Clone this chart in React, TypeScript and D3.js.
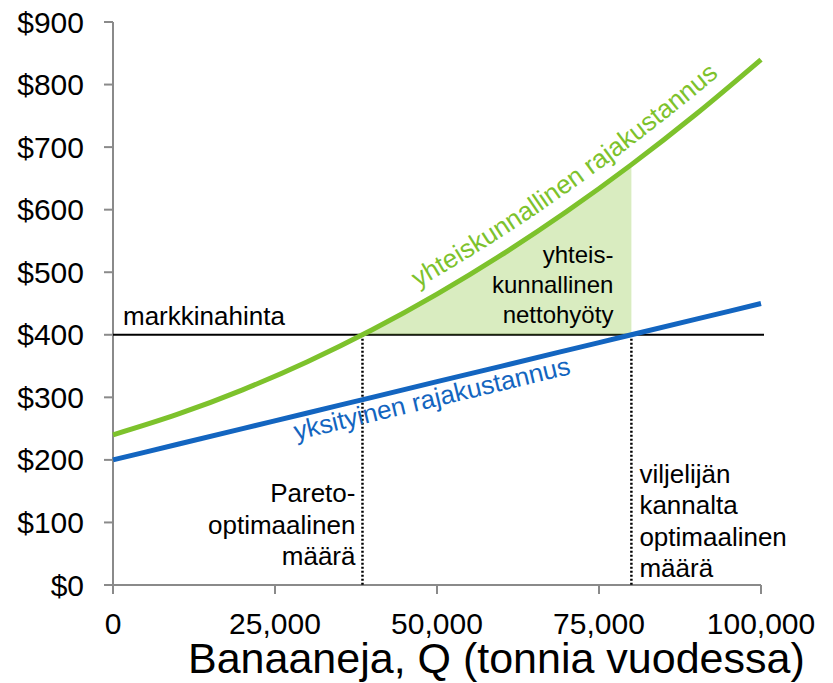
import React from "react";
import * as d3 from "d3";

// values
const quantity = [0, 10000, 20000, 30000, 40000, 50000, 60000, 70000, 80000, 90000, 100000];
const socialCost = [240, 273, 312, 357, 408, 465, 528, 597, 672, 753, 840];
const privateCost = [200, 225, 250, 275, 300, 325, 350, 375, 400, 425, 450];
const marketPrice = 400;
const paretoQ = 38500;
const farmerQ = 80000;

const yTicks = [0, 100, 200, 300, 400, 500, 600, 700, 800, 900];
const xTicks = [0, 25000, 50000, 75000, 100000];

const paretoLabel = ["Pareto-", "optimaalinen", "määrä"];
const farmerLabel = ["viljelijän", "kannalta", "optimaalinen", "määrä"];
const benefitLabel = ["yhteis-", "kunnallinen", "nettohyöty"];

const W = 833;
const H = 683;
const FONT = "'Liberation Sans', Arial, Helvetica, sans-serif";
const GREEN = "#7dc22c";
const BLUE = "#1365c0";
const AXIS = "#8a8a8a";

const App: React.FC = () => {
  const x = d3.scaleLinear().domain([0, 100000]).range([113, 761]);
  const y = d3.scaleLinear().domain([0, 900]).range([585, 22]);

  const social = quantity.map((q, i) => ({ q, v: socialCost[i] }));
  const priv = quantity.map((q, i) => ({ q, v: privateCost[i] }));

  const line = d3
    .line<{ q: number; v: number }>()
    .x((d) => x(d.q))
    .y((d) => y(d.v))
    .curve(d3.curveMonotoneX);

  const area = d3
    .area<{ q: number; v: number }>()
    .x((d) => x(d.q))
    .y0(y(marketPrice))
    .y1((d) => y(d.v))
    .curve(d3.curveMonotoneX);

  // offset path above the green curve for its label
  const pts = social.map((d) => [x(d.q), y(d.v)]);
  const off = 15;
  const offPts = pts.map((p, i) => {
    const a = pts[Math.max(0, i - 1)];
    const b = pts[Math.min(pts.length - 1, i + 1)];
    const dx = b[0] - a[0];
    const dy = b[1] - a[1];
    const len = Math.hypot(dx, dy);
    return [p[0] + (dy / len) * off, p[1] - (dx / len) * off] as [number, number];
  });
  const labelPath = d3.line().curve(d3.curveCatmullRom)(offPts) || "";
  const targetX = 418;
  let startLen = 0;
  for (let i = 0; i < offPts.length - 1; i++) {
    const [x0, y0] = offPts[i];
    const [x1, y1] = offPts[i + 1];
    const seg = Math.hypot(x1 - x0, y1 - y0);
    if (x1 >= targetX) {
      startLen += (seg * (targetX - x0)) / (x1 - x0);
      break;
    }
    startLen += seg;
  }

  // blue label angle
  const blueAngle =
    (Math.atan2(y(privateCost[10]) - y(privateCost[0]), x(quantity[10]) - x(quantity[0])) * 180) / Math.PI;
  const blueQ = 27400;
  const blueVal = privateCost[0] + ((privateCost[10] - privateCost[0]) * blueQ) / quantity[10];

  const fmt = d3.format(",");

  return (
    <svg
      width={W}
      height={H}
      style={{ position: "absolute", left: 0, top: 0, display: "block", background: "#fff" }}
      fontFamily={FONT}
    >
      <defs>
        <clipPath id="benefitClip">
          <rect x={x(paretoQ)} y={0} width={x(farmerQ) - x(paretoQ)} height={y(marketPrice)} />
        </clipPath>
        <path id="socialLabelPath" d={labelPath} fill="none" />
      </defs>

      {/* axes */}
      <line x1={x(0)} x2={x(0)} y1={y(900)} y2={y(0)} stroke={AXIS} strokeWidth={2} />
      <line x1={x(0)} x2={x(100000)} y1={y(0)} y2={y(0)} stroke={AXIS} strokeWidth={2} />
      {yTicks.map((t) => (
        <g key={"y" + t}>
          <line x1={x(0) - 9} x2={x(0)} y1={y(t)} y2={y(t)} stroke={AXIS} strokeWidth={2} />
          <text x={84} y={y(t) + 10.5} textAnchor="end" fontSize={30} fill="#000">
            {"$" + t}
          </text>
        </g>
      ))}
      {xTicks.map((t) => (
        <g key={"x" + t}>
          <line x1={x(t)} x2={x(t)} y1={y(0)} y2={y(0) + 9} stroke={AXIS} strokeWidth={2} />
          <text x={x(t)} y={634} textAnchor="middle" fontSize={30} fill="#000">
            {fmt(t)}
          </text>
        </g>
      ))}
      <text x={188} y={673} fontSize={43} fill="#000">
        Banaaneja, Q (tonnia vuodessa)
      </text>

      {/* market price */}
      <line x1={x(0)} x2={x(100000) + 3} y1={y(marketPrice)} y2={y(marketPrice)} stroke="#000" strokeWidth={2} />
      <text x={x(0) + 10} y={y(marketPrice) - 9.5} fontSize={26} fill="#000">
        markkinahinta
      </text>

      {/* net benefit area */}
      <path d={area(social) || ""} fill="#8dc63f" fillOpacity={0.33} clipPath="url(#benefitClip)" />

      {/* dotted guides */}
      {[paretoQ, farmerQ].map((q) => (
        <line
          key={"d" + q}
          x1={x(q)}
          x2={x(q)}
          y1={y(marketPrice)}
          y2={y(0)}
          stroke="#000"
          strokeWidth={2.5}
          strokeDasharray="2,2"
        />
      ))}

      {/* curves */}
      <path d={line(priv) || ""} fill="none" stroke={BLUE} strokeWidth={5} />
      <path d={line(social) || ""} fill="none" stroke={GREEN} strokeWidth={5} />

      {/* curve labels */}
      <text fontSize={26} fill={GREEN}>
        <textPath href="#socialLabelPath" startOffset={startLen}>
          yhteiskunnallinen rajakustannus
        </textPath>
      </text>
      <g transform={`translate(${x(blueQ)},${y(blueVal)}) rotate(${blueAngle})`}>
        <text x={0} y={24} fontSize={26} fill={BLUE}>
          yksityinen rajakustannus
        </text>
      </g>

      {/* annotations */}
      {benefitLabel.map((s, i) => (
        <text
          key={"b" + i}
          x={x(farmerQ) - 18}
          y={y(marketPrice) - 12 - (benefitLabel.length - 1 - i) * 30}
          textAnchor="end"
          fontSize={24}
          fill="#000"
        >
          {s}
        </text>
      ))}
      {paretoLabel.map((s, i) => (
        <text
          key={"p" + i}
          x={x(paretoQ) - 7}
          y={y(0) - 20 - (paretoLabel.length - 1 - i) * 31.5}
          textAnchor="end"
          fontSize={26}
          fill="#000"
        >
          {s}
        </text>
      ))}
      {farmerLabel.map((s, i) => (
        <text
          key={"f" + i}
          x={x(farmerQ) + 8}
          y={y(0) - 8 - (farmerLabel.length - 1 - i) * 31.5}
          fontSize={26}
          fill="#000"
        >
          {s}
        </text>
      ))}
    </svg>
  );
};

export default App;
